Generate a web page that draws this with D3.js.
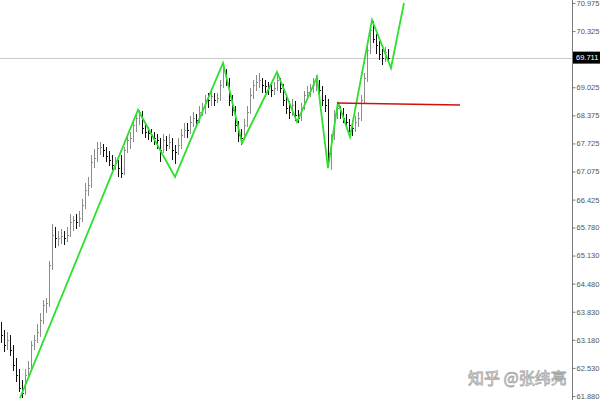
<!DOCTYPE html>
<html><head><meta charset="utf-8">
<script src="https://cdn.jsdelivr.net/npm/d3@7/dist/d3.min.js"></script>
<style>body{margin:0;background:#fff}svg{display:block}</style>
</head><body>
<svg id="c" width="600" height="400"></svg>
<script>
// OHLC bars
const opens = [63.45,63.29,63.06,63.18,62.94,62.60,62.37,62.07,61.95,62.37,62.53,63.06,63.18,63.36,63.64,63.99,64.03,64.91,65.61,65.54,
65.54,65.58,65.54,65.61,65.91,65.95,65.91,66.00,66.30,66.65,66.76,67.30,67.39,67.62,67.64,67.57,67.43,67.34,67.23,67.27,
67.35,67.05,67.57,67.80,67.85,68.15,68.31,68.45,68.08,67.99,67.97,67.90,67.85,67.80,67.57,67.80,67.69,67.76,67.57,67.53,
67.69,67.92,68.10,68.04,68.22,68.31,68.27,68.45,68.50,68.80,68.73,68.82,68.73,68.78,69.08,69.42,69.19,68.73,68.50,68.15,
67.92,67.85,68.15,68.45,68.85,69.08,69.15,69.19,69.08,69.05,69.01,68.96,69.01,69.19,69.01,68.73,68.55,68.45,68.61,68.38,
68.31,68.55,68.85,68.92,68.96,69.08,69.10,68.96,68.73,68.61,67.50,67.85,68.40,68.55,68.45,68.31,68.22,68.15,68.08,68.22,
68.31,68.73,69.24,69.89,70.35,70.15,70.00,69.80,69.70,69.85];
const highs = [63.60,63.40,63.35,63.30,63.05,62.75,62.50,62.25,62.50,62.70,63.15,63.30,63.55,63.80,64.10,64.15,65.00,65.85,65.80,65.70,
65.75,65.70,65.80,66.10,66.05,66.10,66.15,66.45,66.80,66.95,67.45,67.60,67.75,67.75,67.72,67.65,67.55,67.45,67.40,67.35,
67.45,67.65,67.95,68.00,68.25,68.40,68.51,68.48,68.20,68.10,68.05,68.00,67.95,67.85,67.95,67.90,67.95,67.85,67.70,67.85,
68.05,68.20,68.20,68.35,68.45,68.40,68.60,68.65,68.85,68.90,68.95,68.90,68.90,69.20,69.55,69.45,69.25,68.85,68.60,68.25,
68.05,68.30,68.60,69.00,69.20,69.30,69.35,69.25,69.20,69.15,69.10,69.15,69.35,69.25,69.10,68.85,68.70,68.75,68.70,68.50,
68.65,68.95,69.05,69.10,69.25,69.30,69.20,69.05,68.85,68.75,67.95,68.50,68.65,68.60,68.55,68.40,68.30,68.25,68.35,68.45,
68.85,69.35,70.00,70.45,70.57,70.25,70.10,69.90,69.95,69.90];
const lows = [63.10,62.90,62.95,62.80,62.45,62.20,61.98,61.84,61.90,62.30,62.45,62.95,63.10,63.25,63.55,63.80,63.95,64.80,65.30,65.35,
65.40,65.38,65.45,65.55,65.70,65.75,65.80,65.90,66.20,66.50,66.70,67.15,67.30,67.45,67.40,67.30,67.20,67.10,67.10,66.95,
66.92,67.00,67.50,67.60,67.75,68.00,68.15,67.95,67.85,67.80,67.75,67.70,67.60,67.30,67.50,67.55,67.60,67.35,67.25,67.45,
67.60,67.85,67.85,67.95,68.10,68.10,68.20,68.35,68.40,68.55,68.60,68.60,68.65,68.70,69.00,69.05,68.60,68.35,68.00,67.75,
67.70,67.80,68.10,68.40,68.75,68.95,69.00,68.90,68.90,68.85,68.80,68.85,68.95,68.90,68.60,68.40,68.30,68.35,68.25,68.20,
68.25,68.50,68.75,68.80,68.90,68.95,68.85,68.60,68.45,67.20,67.12,67.80,68.30,68.30,68.20,68.10,68.00,67.90,68.00,68.10,
68.25,68.65,69.15,69.80,70.05,69.80,69.65,69.55,69.60,69.60];
const closes = [63.29,63.06,63.18,62.94,62.60,62.37,62.07,61.95,62.37,62.53,63.06,63.18,63.36,63.64,63.99,64.03,64.91,65.61,65.54,65.54,
65.58,65.54,65.61,65.91,65.95,65.91,66.00,66.30,66.65,66.76,67.30,67.39,67.62,67.64,67.57,67.43,67.34,67.23,67.27,67.16,
67.05,67.57,67.80,67.85,68.15,68.31,68.45,68.08,67.99,67.97,67.90,67.85,67.80,67.57,67.80,67.69,67.76,67.57,67.53,67.69,
67.92,68.04,68.04,68.22,68.31,68.27,68.45,68.50,68.73,68.73,68.82,68.73,68.78,69.08,69.42,69.19,68.73,68.50,68.15,67.92,
67.85,68.15,68.45,68.85,69.08,69.15,69.19,69.08,69.05,69.01,68.96,69.01,69.19,69.01,68.73,68.55,68.45,68.61,68.38,68.31,
68.55,68.85,68.92,68.96,69.08,69.10,68.96,68.73,68.61,67.50,67.85,68.40,68.55,68.45,68.31,68.22,68.15,68.08,68.22,68.31,
68.73,69.24,69.89,70.35,70.15,70.00,69.80,69.70,69.85,69.71];

// hand-drawn green trend zigzag (bar index, price)
const zigIdx   = [6.33, 45.67, 58, 74, 80.33, 92, 98.67, 105.33, 109, 112.33, 116.33, 123.67, 130, 134.33];
const zigPrice = [61.83, 68.50, 66.95, 69.59, 67.735, 69.378, 68.221, 69.262, 67.156, 68.684, 67.874, 70.582, 69.471, 70.975];
// red horizontal line
const redIdx = [112, 153];
const redPrice = [68.66, 68.615];
// price axis
const tickValues = [70.975, 70.325, 69.025, 68.375, 67.725, 67.075, 66.425, 65.780, 65.130, 64.480, 63.830, 63.180, 62.530, 61.880];
const currentPrice = 69.711;
const watermark = "知乎 @张纬亮";

const svg = d3.select("#c");
const y = d3.scaleLinear().domain([61.880, 70.975]).range([396, 3]);
const x = d3.scaleLinear().domain([0, 129]).range([1, 388]);
const axisX = 572;

// current price line
svg.append("line").attr("x1",0).attr("x2",axisX).attr("y1",Math.round(y(currentPrice))+0.5).attr("y2",Math.round(y(currentPrice))+0.5)
  .attr("stroke","#c8c8c8").attr("stroke-width",1);

// bars
const bars = svg.append("g").attr("shape-rendering","crispEdges");
opens.forEach((o,i)=>{
  const c = closes[i], h = highs[i], l = lows[i];
  const xi = Math.round(x(i)) + 0.5;
  const col = c >= o ? "#8c8c8c" : "#111";
  const g = bars.append("g").attr("stroke", col).attr("stroke-width",1);
  g.append("line").attr("x1",xi).attr("x2",xi).attr("y1",y(h)).attr("y2",y(l));
  g.append("line").attr("x1",xi-1).attr("x2",xi).attr("y1",Math.round(y(o))+0.5).attr("y2",Math.round(y(o))+0.5);
  g.append("line").attr("x1",xi).attr("x2",xi+1).attr("y1",Math.round(y(c))+0.5).attr("y2",Math.round(y(c))+0.5);
});

// zigzag
const line = d3.line().x(d=>x(d[0])).y(d=>y(d[1]));
svg.append("path").datum(zigIdx.map((v,i)=>[v, zigPrice[i]])).attr("d", line)
  .attr("fill","none").attr("stroke","#2ee02e").attr("stroke-width",1.8).attr("stroke-linejoin","miter");

// red line
svg.append("path").datum(redIdx.map((v,i)=>[v, redPrice[i]])).attr("d", line)
  .attr("fill","none").attr("stroke","#d01010").attr("stroke-width",1.5);

// axis
svg.append("line").attr("x1",axisX+0.5).attr("x2",axisX+0.5).attr("y1",0).attr("y2",400).attr("stroke","#7a7a7a").attr("stroke-width",1);
const ax = d3.axisRight(y).tickValues(tickValues).tickSize(3).tickFormat(d3.format(".3f"));
const axg = svg.append("g").attr("transform",`translate(${axisX+0.5},0)`).call(ax);
axg.select(".domain").remove();
axg.selectAll(".tick line").attr("stroke","#7a7a7a");
axg.selectAll(".tick text").attr("x",4).attr("fill","#555").attr("font-family","Liberation Sans, Arial, sans-serif").attr("font-size","7.5px");

// current price label
const cy = y(currentPrice);
svg.append("rect").attr("x",axisX+1).attr("y",cy-6).attr("width",27).attr("height",12).attr("fill","#000");
svg.append("text").attr("x",axisX+4).attr("y",cy).attr("dy","0.35em").attr("fill","#fff")
  .attr("font-family","Liberation Sans, Arial, sans-serif").attr("font-size","7.5px").text(d3.format(".3f")(currentPrice));

// watermark
svg.append("text").attr("x",468).attr("y",384).attr("font-family","Noto Sans CJK SC, sans-serif").attr("font-size","16px")
  .attr("fill","rgba(255,255,255,0.85)").attr("stroke","#a8a8a8").attr("stroke-width",0.8).text(watermark);
</script>
</body></html>
